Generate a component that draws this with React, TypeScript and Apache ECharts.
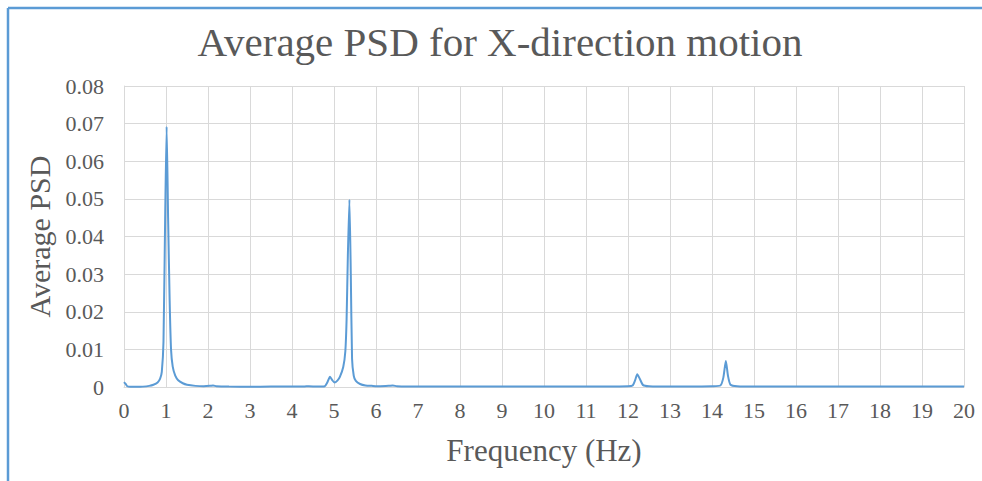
import React, { useEffect, useRef } from "react";
import * as echarts from "echarts";

const freqHz: number[] = [
  0, 0.04, 0.08, 0.15, 0.3, 0.45, 0.6, 0.7, 0.8, 0.86, 0.9, 0.94, 0.98, 1.015, 1.05, 1.087, 1.12, 1.16, 1.22, 1.29,
  1.4, 1.5, 1.7, 1.9, 2.05, 2.12, 2.2, 2.5, 3.0, 3.5, 4.0, 4.3, 4.4, 4.6, 4.78, 4.84, 4.905, 4.96, 5.01, 5.08,
  5.14, 5.22, 5.27, 5.3, 5.33, 5.367, 5.4, 5.43, 5.47, 5.52, 5.62, 5.75, 5.9, 6.1, 6.3, 6.4, 6.5, 7, 7.5, 8,
  9, 9.8, 10, 11, 11.6, 12.0, 12.11, 12.17, 12.22, 12.28, 12.36, 12.5, 13, 13.5, 14.0, 14.2, 14.27, 14.33, 14.38, 14.44,
  14.6, 15, 15.5, 16, 17, 18, 19, 19.4, 20,
];

const avgPsd: number[] = [
  0.0013, 0.0008, 0.0002, 0.00005, 0.00005, 0.0001, 0.0003, 0.0006, 0.0012, 0.0022, 0.004, 0.012, 0.045, 0.0692, 0.045, 0.023, 0.01, 0.0054, 0.003, 0.0018,
  0.001, 0.0006, 0.0003, 0.0002, 0.0003, 0.0004, 0.0002, 0.0001, 0.00008, 0.0001, 0.0001, 0.00015, 0.0002, 0.0001, 0.0002, 0.0012, 0.0027, 0.0018, 0.0012, 0.0017,
  0.0027, 0.0053, 0.0095, 0.018, 0.035, 0.0498, 0.03, 0.0075, 0.003, 0.0016, 0.0008, 0.0004, 0.0003, 0.0002, 0.0003, 0.0004, 0.0002, 0.0001, 0.00015, 0.0001,
  0.0001, 0.00015, 0.0001, 0.0001, 0.00015, 0.0002, 0.0004, 0.0018, 0.0034, 0.0022, 0.0005, 0.0002, 0.0001, 0.0001, 0.0002, 0.0004, 0.0025, 0.0069, 0.003, 0.0006,
  0.0002, 0.0001, 0.00015, 0.0001, 0.0001, 0.0001, 0.0001, 0.00015, 0.0001,
];

const titleText = "Average PSD for X-direction motion";
const xAxisName = "Frequency (Hz)";
const yAxisName = "Average PSD";

const SERIF = "'Liberation Serif', 'Times New Roman', serif";
const TEXT = "#595959";
const GRID = "#d9d9d9";
const BLUE = "#5b9bd5";

export default function App() {
  const ref = useRef<HTMLDivElement>(null);
  useEffect(() => {
    if (!ref.current) return;
    const chart = echarts.init(ref.current, undefined, { renderer: "svg" });
    const data = freqHz.map((f, i) => [f, avgPsd[i]]);
    chart.setOption({
      animation: false,
      backgroundColor: "#ffffff",
      grid: { left: 124, right: 18, top: 86, bottom: 94, containLabel: false },
      graphic: [
        {
          type: "text",
          x: 500,
          y: 21,
          style: {
            text: titleText,
            font: `41px ${SERIF}`,
            fill: TEXT,
            textAlign: "center",
            textVerticalAlign: "top",
          },
        },
        {
          type: "line",
          shape: { x1: 8, y1: 8, x2: 982, y2: 8 },
          style: { stroke: BLUE, lineWidth: 2.5 },
        },
        {
          type: "line",
          shape: { x1: 8, y1: 8, x2: 8, y2: 481 },
          style: { stroke: BLUE, lineWidth: 2.5 },
        },
      ],
      xAxis: {
        type: "value",
        min: 0,
        max: 20,
        interval: 1,
        name: xAxisName,
        nameLocation: "middle",
        nameGap: 48,
        nameTextStyle: { fontFamily: SERIF, fontSize: 31, color: TEXT },
        axisLine: { show: true, lineStyle: { color: GRID, width: 1 } },
        axisTick: { show: false },
        axisLabel: { fontFamily: SERIF, fontSize: 22, color: TEXT, margin: 12 },
        splitLine: { show: true, lineStyle: { color: GRID, width: 1 } },
      },
      yAxis: {
        type: "value",
        min: 0,
        max: 0.08,
        interval: 0.01,
        name: yAxisName,
        nameLocation: "middle",
        nameRotate: 90,
        nameGap: 66,
        nameTextStyle: { fontFamily: SERIF, fontSize: 30, color: TEXT },
        axisLine: { show: true, lineStyle: { color: GRID, width: 1 } },
        axisTick: { show: false },
        axisLabel: {
          fontFamily: SERIF,
          fontSize: 22,
          color: TEXT,
          margin: 20,
          formatter: (v: number) => (Math.abs(v) < 1e-9 ? "0" : v.toFixed(2)),
        },
        splitLine: { show: true, lineStyle: { color: GRID, width: 1 } },
      },
      series: [
        {
          type: "line",
          data,
          showSymbol: false,
          smooth: 0.2,
          lineStyle: { color: BLUE, width: 2 },
          itemStyle: { color: BLUE },
        },
      ],
    });
    return () => chart.dispose();
  }, []);
  return (
    <div
      ref={ref}
      style={{ position: "fixed", left: 0, top: 0, width: 982, height: 481 }}
    />
  );
}
